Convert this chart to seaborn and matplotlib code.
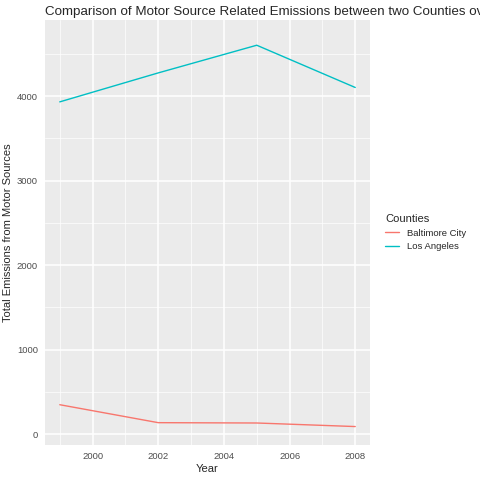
import matplotlib
matplotlib.use("Agg")
import matplotlib.pyplot as plt
import seaborn as sns
import pandas as pd
from matplotlib.ticker import MultipleLocator

years = [1999, 2002, 2005, 2008]
baltimore = [346.8, 134.3, 130.4, 88.3]
los_angeles = [3931.1, 4274.0, 4601.4, 4101.3]
counties = ["Baltimore City", "Los Angeles"]
colors = ["#F8766D", "#00BFC4"]

df = pd.DataFrame({
    "Year": years * 2,
    "Emissions": baltimore + los_angeles,
    "Counties": [counties[0]] * 4 + [counties[1]] * 4,
})

sns.set_style("darkgrid", {"axes.facecolor": "#EBEBEB", "grid.color": "white"})
plt.rcParams["font.family"] = ["Liberation Sans", "DejaVu Sans"]
fig = plt.figure(figsize=(4.8, 4.8), dpi=100)
ax = fig.add_axes([45/480, 35/480, 325/480, 425/480])
sns.lineplot(data=df, x="Year", y="Emissions", hue="Counties", palette=colors, ax=ax, linewidth=1)
ax.set_xlim(1998.55, 2008.45)
ax.set_ylim(-130, 4900)
ax.set_xticks([2000, 2002, 2004, 2006, 2008])
ax.set_yticks([0, 1000, 2000, 3000, 4000])
ax.xaxis.set_minor_locator(MultipleLocator(1))
ax.yaxis.set_minor_locator(MultipleLocator(500))
ax.grid(which="major", color="white", linewidth=1.1)
ax.grid(which="minor", color="white", linewidth=0.5)
for s in ax.spines.values():
    s.set_visible(False)
ax.tick_params(axis="both", labelsize=6.8, colors="#4D4D4D", length=3, color="#333333", pad=2)
ax.set_xlabel("Year", fontsize=8, labelpad=2)
ax.set_ylabel("Total Emissions from Motor Sources", fontsize=8, labelpad=3)
fig.text(45/480, 1 - 12/480, "Comparison of Motor Source Related Emissions between two Counties over Time",
         fontsize=9.6, va="center", ha="left")
leg = ax.legend(title="Counties", loc="center left", bbox_to_anchor=(1.02, 0.5), frameon=False,
                fontsize=6.8, title_fontsize=8, handlelength=1.5)
leg._legend_box.align = "left"
fig.savefig("out.png", dpi=100)
